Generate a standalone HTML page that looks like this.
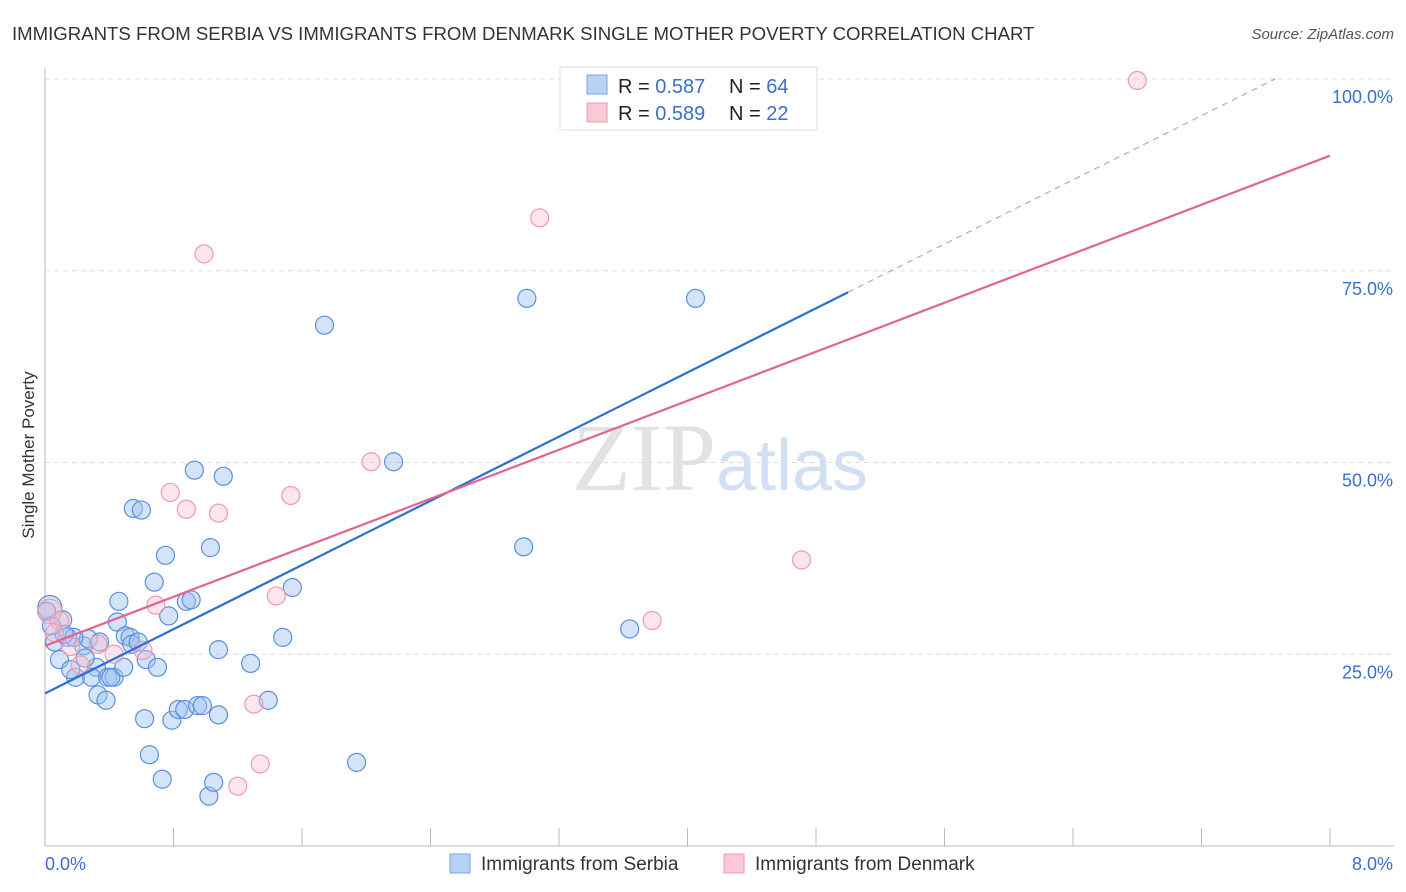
<!DOCTYPE html>
<html><head><meta charset="utf-8"><style>
body{margin:0;background:#fff;font-family:"Liberation Sans",sans-serif;}
svg{display:block}
</style></head><body>
<svg id="chart" width="1406" height="892" xmlns="http://www.w3.org/2000/svg">
<text x="12" y="40" font-size="18.6" fill="#333">IMMIGRANTS FROM SERBIA VS IMMIGRANTS FROM DENMARK SINGLE MOTHER POVERTY CORRELATION CHART</text>
<text x="1394" y="39" font-size="15" fill="#555" font-style="italic" text-anchor="end">Source: ZipAtlas.com</text>
<text x="720" y="490" font-size="96" fill="#e2e2e2" text-anchor="middle" font-family="Liberation Serif,serif">ZIP<tspan fill="#d2e0f4" font-family="Liberation Sans,sans-serif" font-size="72">atlas</tspan></text>
<g id="grid"></g>
<g id="axes"></g>
<g id="marks"></g>
<g id="lines"></g>
<text transform="translate(34,455) rotate(-90)" font-size="17" fill="#333" text-anchor="middle">Single Mother Poverty</text>
<g>
<rect x="560" y="67" width="257" height="63" fill="#fff" stroke="#ddd"/>
<rect x="587" y="75" width="20" height="19" fill="#b8d2f4" stroke="#7aa6e6"/>
<rect x="587" y="103" width="20" height="19" fill="#f9c9d6" stroke="#ec9ab2"/>
<text x="618" y="93" font-size="20" fill="#222">R = <tspan fill="#3a6fd0">0.587</tspan></text>
<text x="729" y="93" font-size="20" fill="#222">N = <tspan fill="#3a6fd0">64</tspan></text>
<text x="618" y="120" font-size="20" fill="#222">R = <tspan fill="#3a6fd0">0.589</tspan></text>
<text x="729" y="120" font-size="20" fill="#222">N = <tspan fill="#3a6fd0"> 22</tspan></text>
</g>
<g>
<rect x="450" y="854" width="20" height="19" fill="#b8d2f4" stroke="#7aa6e6"/>
<text x="481" y="870" font-size="19" fill="#333">Immigrants from Serbia</text>
<rect x="724" y="854" width="20" height="19" fill="#f9c9d6" stroke="#ec9ab2"/>
<text x="755" y="870" font-size="19" fill="#333">Immigrants from Denmark</text>
</g>
</svg>
<script>
const xTicks=[0.8,1.6,2.4,3.2,4.0,4.8,5.6,6.4,7.2,8.0];
const yTicks=[25,50,75,100];
const yTickLabels=["25.0%","50.0%","75.0%","100.0%"];
const xEndLabels=["0.0%","8.0%"];
const serbiaX=[0.03,0.01,0.11,0.06,0.14,0.09,0.19,0.16,0.24,0.27,0.32,0.29,0.33,0.38,0.39,0.43,0.41,0.45,0.46,0.49,0.50,0.53,0.54,0.58,0.63,0.70,0.62,0.65,0.73,0.55,0.60,0.68,0.75,0.77,0.79,0.83,0.87,0.88,0.91,0.93,0.95,0.98,1.02,1.05,1.03,1.08,1.08,1.11,1.28,1.39,1.48,1.54,1.74,1.94,2.17,2.98,3.00,3.64,4.05,0.18,0.34,0.12,0.25,0.04,3.57];
const serbiaY=[31.1,30.6,29.5,26.6,27.2,24.3,22.0,23.0,26.1,27.0,23.3,22.0,19.7,19.0,22.0,22.0,22.0,29.2,31.9,23.3,27.4,27.2,26.3,26.6,24.3,23.3,16.6,11.9,8.7,44.0,43.8,34.4,37.9,30.0,16.4,17.8,17.8,31.9,32.1,49.0,18.3,18.3,6.5,8.3,38.9,17.1,25.6,48.2,23.8,19.0,27.2,33.7,67.9,10.9,50.1,39.0,71.4,28.3,71.4,27.2,26.6,27.6,24.5,28.7,100];
const denmarkX=[0.03,0.09,0.06,0.16,0.22,0.33,0.43,0.61,0.69,0.78,0.88,0.99,1.08,1.20,1.30,1.34,1.44,1.53,2.03,3.08,3.78,4.71,6.80];
const denmarkY=[30.6,29.4,27.8,26.0,23.6,26.3,25.0,25.5,31.4,46.1,43.9,77.2,43.4,7.8,18.5,10.7,32.6,45.7,50.1,81.9,29.4,37.3,99.8];
const serbiaLine=[0,19.9,5.0,72.2];
const denmarkLine=[0,26.1,8.0,90.0];
const NS='http://www.w3.org/2000/svg';
const X0=45,X1=1330,Y0=846,Y100=79;
const sx=v=>X0+(v/8)*(X1-X0);
const sy=v=>Y0-(v/100)*(Y0-Y100);
function mk(t,a,p){const e=document.createElementNS(NS,t);for(const k in a)e.setAttribute(k,a[k]);p.appendChild(e);return e;}
const grid=document.getElementById('grid'),axes=document.getElementById('axes'),marks=document.getElementById('marks'),lines=document.getElementById('lines');
yTicks.forEach((v,i)=>{
 const l=mk('line',{x1:X0,x2:1394,y1:sy(v),y2:sy(v),stroke:'#ddd','stroke-dasharray':'5,4'},grid);
 
 
 const t=mk('text',{x:1393,y:sy(v)+24,'font-size':18,fill:'#3a6fd0','text-anchor':'end'},axes);
 t.textContent=yTickLabels[i];
 
 
});
const ax=mk('line',{x1:X0,x2:X0,y1:68,y2:Y0,stroke:'#bbb'},axes);


const bx=mk('line',{x1:X0,x2:1394,y1:Y0,y2:Y0,stroke:'#bbb'},axes);


xTicks.forEach(v=>{
 const t=mk('line',{x1:sx(v),x2:sx(v),y1:828,y2:Y0,stroke:'#bbb'},axes);
 
 
});
[[0,'start',45],[1,'end',1393]].forEach(([i,a,x])=>{
 const t=mk('text',{x:x,y:870,'font-size':18,fill:'#3a6fd0','text-anchor':a},axes);
 t.textContent=xEndLabels[i];
 
 
});
function pts(xs,ys,fill,stroke,name){
 xs.forEach((x,i)=>{
  const r=(i===0)?12:9;
  const c=mk('circle',{cx:sx(x),cy:sy(ys[i]),r:r,fill:fill,stroke:stroke,'stroke-width':1.2},marks);
  
  
 });
}
pts(serbiaX,serbiaY,'rgba(160,195,240,0.45)','#5b8fdc','serbia-point');
pts(denmarkX,denmarkY,'rgba(248,190,208,0.4)','#ec9ab2','denmark-point');
const sl=mk('line',{x1:sx(serbiaLine[0]),y1:sy(serbiaLine[1]),x2:sx(serbiaLine[2]),y2:sy(serbiaLine[3]),stroke:'#2a6fd6','stroke-width':2.2},lines);


const slope=(serbiaLine[3]-serbiaLine[1])/(serbiaLine[2]-serbiaLine[0]);
const xe=(100-serbiaLine[1])/slope;
const sd=mk('line',{x1:sx(serbiaLine[2]),y1:sy(serbiaLine[3]),x2:sx(xe),y2:sy(100),stroke:'#7aa6e6','stroke-width':1,'stroke-dasharray':'6,5'},lines);


const dl=mk('line',{x1:sx(denmarkLine[0]),y1:sy(denmarkLine[1]),x2:sx(denmarkLine[2]),y2:sy(denmarkLine[3]),stroke:'#e4638f','stroke-width':2.2},lines);


</script>
</body></html>
